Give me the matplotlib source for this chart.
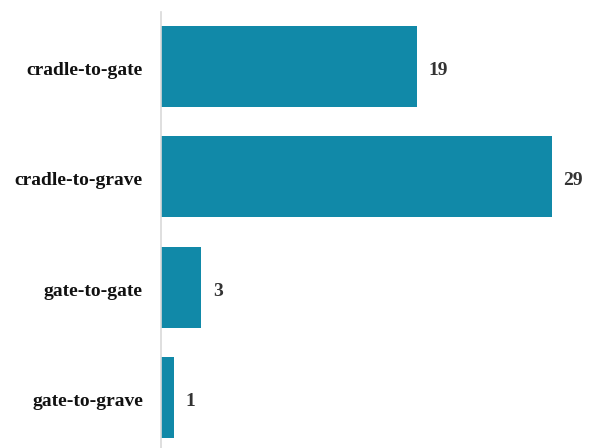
import matplotlib
matplotlib.use("Agg")
import matplotlib.pyplot as plt
from matplotlib.transforms import ScaledTranslation

categories = ["cradle-to-gate", "cradle-to-grave", "gate-to-gate", "gate-to-grave"]
counts = [19, 29, 3, 1]

bar_color = "#1189A8"
serif = ["Liberation Serif", "DejaVu Serif"]

fig = plt.figure(figsize=(5.92, 4.48), dpi=100)
ax = fig.add_axes([161 / 592, 0.0, 1 - 161 / 592, 436 / 448])

y = list(range(len(categories)))
ax.barh(y, counts, height=0.735, color=bar_color, zorder=2)

ax.set_xlim(0, 32)
ax.set_ylim(3.458, -0.494)

# nudge text a little below the bar centre line
nudge = ScaledTranslation(0, -1.5 / 72, fig.dpi_scale_trans)

for yi, v in zip(y, counts):
    ax.text(v + 0.85, yi, str(v), va="center_baseline", ha="left",
            fontsize=14, fontweight="bold", color="#333333", family=serif,
            transform=ax.transData + nudge)

ax.set_yticks(y)
ax.set_yticklabels(categories, fontsize=14, fontweight="bold",
                   color="#111111", family=serif, va="center_baseline")
ax.tick_params(axis="y", length=0, pad=13)
for lab in ax.get_yticklabels():
    lab.set_transform(lab.get_transform() + nudge)
ax.set_xticks([])

for side in ["top", "right", "bottom"]:
    ax.spines[side].set_visible(False)
ax.spines["left"].set_color("#d9d9d9")
ax.spines["left"].set_linewidth(1.2)

fig.savefig("out.png", dpi=100)
